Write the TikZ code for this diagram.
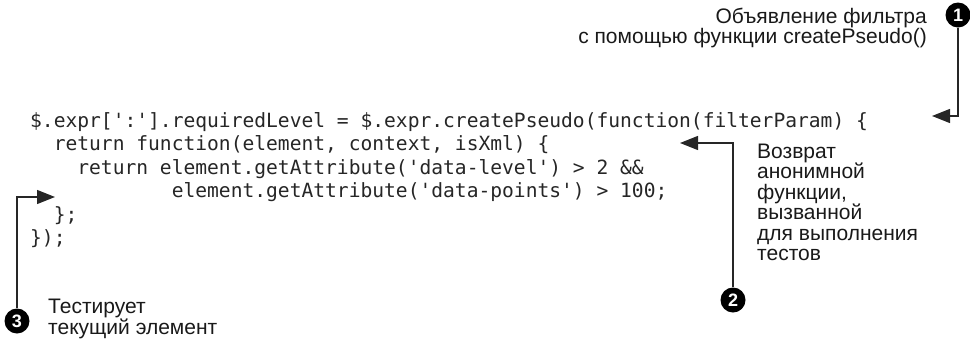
\documentclass[tikz,border=0pt]{standalone}
\usepackage{fontspec}
\setmainfont{Liberation Sans}
\newfontfamily\codefont{DejaVu Sans Mono}
\usetikzlibrary{arrows.meta}
\newcommand\sq{\char"27\relax}
\newcommand\ind[1]{\hphantom{\codefont #1}}
\tikzset{
  codeline/.style={anchor=base west, inner sep=0pt, font=\codefont\fontsize{19.6}{23.5}\selectfont, text=black!85},
  note/.style={inner sep=0pt, font=\fontsize{21}{20.5}\selectfont, text=black!90},
  marker/.style={circle, fill=black, minimum size=25pt, inner sep=0pt, text=white, font=\bfseries\fontsize{18}{18}\selectfont},
  callout/.style={draw=black!85, line width=1.4pt, -{Triangle[length=18pt,width=14pt]}},
}
\begin{document}
\begin{tikzpicture}[x=1pt,y=-1pt]
\useasboundingbox (0,0) rectangle (970,341);

% source code
\node[codeline] (c1) at (30,127)   {\$.expr[\sq:\sq].requiredLevel = \$.expr.createPseudo(function(filterParam) \{};
\node[codeline] (c2) at (30,150.5) {\ind{xx}return function(element, context, isXml) \{};
\node[codeline] (c3) at (30,174)   {\ind{xxxx}return element.getAttribute(\sq data-level\sq) > 2 \&\&};
\node[codeline] (c4) at (30,197.5) {\ind{xxxxxxxxxxxx}element.getAttribute(\sq data-points\sq) > 100;};
\node[codeline] (c5) at (30,221)   {\ind{xx}\};};
\node[codeline] (c6) at (30,244.5) {\});};

% numbered markers
\node[marker] (m1) at (958,15)  {1};
\node[marker] (m2) at (733,300) {2};
\node[marker] (m3) at (17,321)  {3};

% annotations (base anchor sits on the last line)
\node[note, anchor=base east, align=right] (n1) at (927,43.5)
  {Объявление фильтра\\с помощью функции createPseudo()};
\node[note, anchor=base west, align=left] (n2) at (757,260.5)
  {Возврат\\анонимной\\функции,\\вызванной\\для выполнения\\тестов};
\node[note, anchor=base west, align=left] (n3) at (48,334)
  {Тестирует\\текущий элемент};

% arrow end points
\coordinate (t1) at (932,116);
\coordinate (t2) at (680,143);
\coordinate (t3) at (55,197);

\draw[callout] (m1.south) |- (t1);
\draw[callout] (m2.north) |- (t2);
\draw[callout] (m3.north) |- (t3);
\end{tikzpicture}
\end{document}
